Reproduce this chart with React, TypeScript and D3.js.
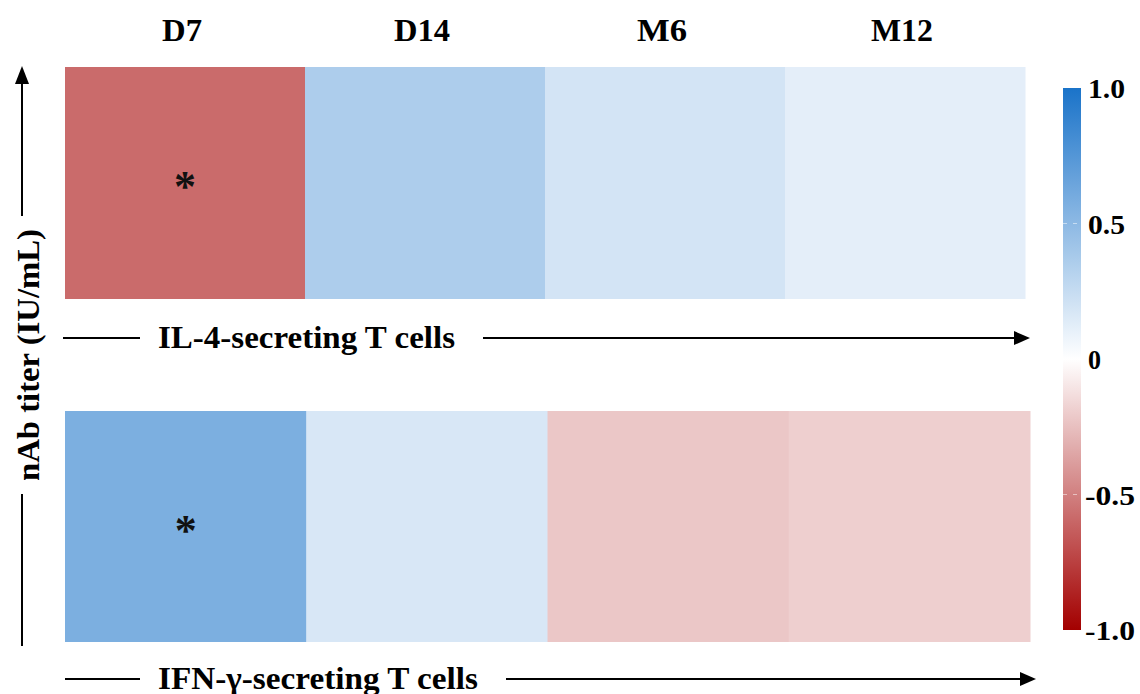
import React from "react";
import * as d3 from "d3";

const timepoints = ["D7", "D14", "M6", "M12"];
const il4Values = [-0.58, 0.36, 0.19, 0.12];
const ifnValues = [0.57, 0.17, -0.22, -0.19];
const il4Signif = [true, false, false, false];
const ifnSignif = [true, false, false, false];
const colorTicks = [1.0, 0.5, 0, -0.5, -1.0];
const colorTickLabels = ["1.0", "0.5", "0", "-0.5", "-1.0"];
const rowLabels = ["IL-4-secreting T cells", "IFN-γ-secreting T cells"];
const yAxisLabel = "nAb titer (IU/mL)";

const W = 1140;
const H = 694;
const FONT = "'Liberation Serif', 'Times New Roman', serif";

const color = d3
  .scaleLinear<string>()
  .domain([-1, 0, 1])
  .range(["#a30000", "#ffffff", "#1a73c9"])
  .interpolate(d3.interpolateRgb);

const topLabelWidth: Record<string, number> = { D7: 40, D14: 56, M6: 50, M12: 62 };
const cbLabelWidth: Record<string, number> = { "1.0": 37, "0.5": 37, "0": 13, "-0.5": 50, "-1.0": 50 };

function Row({ values, signif, x0, x1, y0, y1 }: any) {
  const x = d3.scaleBand<string>().domain(timepoints).range([x0, x1]);
  return (
    <g>
      {timepoints.map((t, i) => (
        <rect
          key={t}
          x={x(t)}
          y={y0}
          width={x.bandwidth() + 0.5}
          height={y1 - y0}
          fill={color(values[i])}
        />
      ))}
      {timepoints.map((t, i) =>
        signif[i] ? (
          <text
            key={"s" + t}
            x={(x(t) as number) + x.bandwidth() / 2}
            y={(y0 + y1) / 2 + 18}
            textAnchor="middle"
            fontFamily={FONT}
            fontWeight="bold"
            fontSize={44}
            fill="#111"
          >
            *
          </text>
        ) : null
      )}
    </g>
  );
}

function Arrow({ y, x0, textX, textW, x1, label }: any) {
  return (
    <g>
      <line x1={x0} x2={textX - 18} y1={y} y2={y} stroke="#000" strokeWidth={2} />
      <text
        x={textX}
        y={y + 10}
        fontFamily={FONT}
        fontWeight="bold"
        fontSize={32}
        textLength={textW}
        lengthAdjust="spacingAndGlyphs"
        fill="#000"
      >
        {label}
      </text>
      <line x1={textX + textW + 28} x2={x1 - 12} y1={y} y2={y} stroke="#000" strokeWidth={2} />
      <path d={`M${x1},${y} L${x1 - 16},${y - 7} L${x1 - 16},${y + 7} Z`} fill="#000" />
    </g>
  );
}

export default function App() {
  const topX = d3.scaleBand<string>().domain(timepoints).range([65, 1025]);
  const cbY = d3.scaleLinear().domain([-1, 1]).range([630, 88]);
  const gradStops = d3.range(0, 1.0001, 0.05);
  return (
    <svg
      width={W}
      height={H}
      style={{ position: "absolute", left: 0, top: 0, background: "#fff" }}
    >
      <defs>
        <linearGradient id="cb" x1="0" y1="1" x2="0" y2="0">
          {gradStops.map((s) => (
            <stop key={s} offset={s} stopColor={color(-1 + 2 * s)} />
          ))}
        </linearGradient>
      </defs>
      <rect x={0} y={0} width={W} height={H} fill="#fff" />

      {timepoints.map((t) => (
        <text
          key={t}
          x={(topX(t) as number) + topX.bandwidth() / 2 - 3 - topLabelWidth[t] / 2}
          y={41}
          fontFamily={FONT}
          fontWeight="bold"
          fontSize={31}
          textLength={topLabelWidth[t]}
          lengthAdjust="spacingAndGlyphs"
          fill="#000"
        >
          {t}
        </text>
      ))}

      <Row values={il4Values} signif={il4Signif} x0={65} x1={1025} y0={67} y1={299} />
      <Row values={ifnValues} signif={ifnSignif} x0={65} x1={1030} y0={411} y1={642} />

      <Arrow y={338} x0={63} textX={158} textW={297} x1={1030} label={rowLabels[0]} />
      <Arrow y={679} x0={65} textX={158} textW={320} x1={1036} label={rowLabels[1]} />

      {/* vertical axis */}
      <line x1={22} x2={22} y1={84} y2={216} stroke="#000" strokeWidth={2} />
      <path d="M22,66 L15,84 L29,84 Z" fill="#000" />
      <line x1={22} x2={22} y1={494} y2={646} stroke="#000" strokeWidth={2} />
      <text
        transform="translate(39,355) rotate(-90)"
        textAnchor="middle"
        fontFamily={FONT}
        fontWeight="bold"
        fontSize={32}
        textLength={252}
        lengthAdjust="spacingAndGlyphs"
        fill="#000"
      >
        {yAxisLabel}
      </text>

      {/* colorbar */}
      <rect x={1063} y={cbY(1)} width={18} height={cbY(-1) - cbY(1)} fill="url(#cb)" />
      {colorTicks.map((v, i) => (
        <g key={v}>
          {v !== 1 && v !== -1 ? (
            <line x1={1063} x2={1081} y1={cbY(v)} y2={cbY(v)} stroke="#fff" strokeOpacity={0.5} strokeDasharray="4,6" />
          ) : null}
          <text
            x={v < 0 ? 1085 : 1088}
            y={cbY(v) + 10}
            fontFamily={FONT}
            fontWeight="bold"
            fontSize={28}
            textLength={cbLabelWidth[colorTickLabels[i]]}
            lengthAdjust="spacingAndGlyphs"
            fill="#000"
          >
            {colorTickLabels[i]}
          </text>
        </g>
      ))}
    </svg>
  );
}
